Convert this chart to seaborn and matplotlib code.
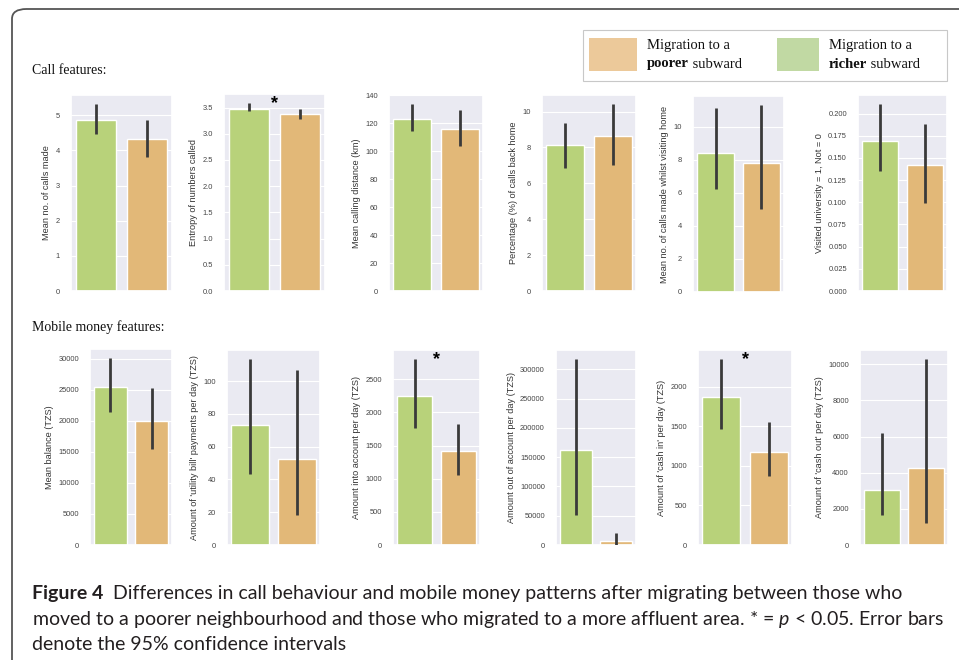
import matplotlib
matplotlib.use("Agg")
import matplotlib.pyplot as plt
import seaborn as sns
import pandas as pd
from matplotlib.patches import FancyBboxPatch, Rectangle
from matplotlib.ticker import MultipleLocator

# ---- data -----------------------------------------------------------------
groups = ["Migration to a richer subward", "Migration to a poorer subward"]

call_labels = [
    "Mean no. of calls made",
    "Entropy of numbers called",
    "Mean calling distance (km)",
    "Percentage (%) of calls back home",
    "Mean no. of calls made whilst visiting home",
    "Visited university = 1, Not = 0",
]
call_means = [[4.86, 4.31], [3.47, 3.37], [123.3, 116.0], [8.12, 8.62], [8.41, 7.81], [0.169, 0.1426]]
call_lo = [[4.46, 3.81], [3.43, 3.28], [114.5, 103.6], [6.88, 7.04], [6.22, 5.01], [0.135, 0.0994]]
call_hi = [[5.31, 4.86], [3.58, 3.48], [133.6, 129.6], [9.37, 10.40], [11.17, 11.31], [0.2105, 0.188]]
call_sig = [False, True, False, False, False, False]

money_labels = [
    "Mean balance (TZS)",
    "Amount of 'utility bill' payments per day (TZS)",
    "Amount into account per day (TZS)",
    "Amount out of account per day (TZS)",
    "Amount of 'cash in' per day (TZS)",
    "Amount of 'cash out' per day (TZS)",
]
money_means = [[25400, 19950], [73.2, 52.8], [2249, 1416], [163000, 6250], [1874, 1174], [3046, 4275]]
money_lo = [[21500, 15400], [43.1, 18.3], [1767, 1054], [51000, 0], [1463, 876], [1633, 1229]]
money_hi = [[30100, 25350], [113.4, 107.1], [2801, 1832], [317000, 19900], [2348, 1551], [6220, 10275]]
money_sig = [False, False, True, False, True, False]

caption_lines = [
    ("Figure 4", "  Differences in call behaviour and mobile money patterns after migrating between those who"),
    ("", "moved to a poorer neighbourhood and those who migrated to a more affluent area. * = $p$ < 0.05. Error bars"),
    ("", "denote the 95% confidence intervals"),
]

# ---- styling / layout -----------------------------------------------------
W, H = 959, 660
bar_colors = ["#b8d27a", "#e2b878"]
legend_colors = {"poorer": "#ecc99a", "richer": "#c1d9a3"}

call_boxes = [(71, 95, 172, 291), (224, 94, 325, 291), (389, 95, 483, 291),
              (542, 95, 636, 291), (693, 96, 784, 292), (858, 95, 947, 291)]
call_steps = [1, 0.5, 20, 2, 2, 0.025]
money_boxes = [(90, 349, 172, 545), (227, 350, 320, 545), (393, 350, 480, 545),
               (556, 350, 636, 545), (698, 350, 792, 545), (860, 350, 948, 545)]
money_steps = [5000, 20, 500, 50000, 500, 2000]

sns.set_theme(style="darkgrid", rc={"axes.facecolor": "#eaeaf2", "grid.color": "white"})
plt.rcParams["font.family"] = ["Liberation Sans", "DejaVu Sans"]
plt.rcParams["mathtext.fontset"] = "custom"
plt.rcParams["mathtext.it"] = "Lato:italic"
plt.rcParams["mathtext.rm"] = "Lato"

fig = plt.figure(figsize=(W / 100, H / 100), dpi=100)
fig.patch.set_facecolor("white")


def fx(px):
    return px / W


def fy(py):
    return 1 - py / H


def panel(box, label, means, lo, hi, sig, step):
    x0, y0, x1, y1 = box
    ax = fig.add_axes([fx(x0), fy(y1), fx(x1 - x0), (y1 - y0) / H])
    df = pd.DataFrame({"group": groups, "value": means})
    sns.barplot(data=df, x="group", y="value", hue="group", palette=bar_colors,
                saturation=1, errorbar=None, legend=False, width=0.8, ax=ax)
    ax.vlines(range(len(groups)), lo, hi, color="#3a3a3a", lw=2.0, zorder=3)
    ax.set_xticks([])
    ax.set_xlabel("")
    ax.set_ylabel(label, fontsize=6.6, color="#333333", labelpad=3)
    ax.yaxis.set_major_locator(MultipleLocator(step))
    ax.tick_params(axis="y", labelsize=5.4, labelcolor="#444444", pad=2)
    ax.grid(axis="y", color="white", lw=0.8)
    if sig:
        ax.text(0.5, hi[0], "*", ha="center", va="center", fontsize=13,
                fontweight="bold", color="black")
    return ax


for i in range(6):
    panel(call_boxes[i], call_labels[i], call_means[i], call_lo[i], call_hi[i],
          call_sig[i], call_steps[i])
    panel(money_boxes[i], money_labels[i], money_means[i], money_lo[i], money_hi[i],
          money_sig[i], money_steps[i])

# section headings
serif = ["Liberation Serif", "DejaVu Serif"]
fig.text(fx(32), fy(70), "Call features:", family=serif, fontsize=10, va="center", color="#111111")
fig.text(fx(32), fy(327), "Mobile money features:", family=serif, fontsize=10, va="center", color="#111111")

# legend box
fig.patches.append(Rectangle((fx(583), fy(81)), fx(947 - 583), (81 - 30) / H,
                             transform=fig.transFigure, facecolor="white",
                             edgecolor="#c8c8c8", lw=0.8))
fig.patches.append(Rectangle((fx(589), fy(71)), fx(48), 33 / H, transform=fig.transFigure,
                             facecolor=legend_colors["poorer"], edgecolor="none"))
fig.patches.append(Rectangle((fx(777), fy(71)), fx(42), 33 / H, transform=fig.transFigure,
                             facecolor=legend_colors["richer"], edgecolor="none"))

renderer = fig.canvas.get_renderer()


def two_part(x, y, bold, rest, family, size, color="#111111"):
    kw = dict(family=family, fontsize=size, va="center", color=color)
    xpos = fx(x)
    last = None
    if bold:
        t = fig.text(xpos, fy(y), bold, fontweight="bold", **kw)
        xpos = t.get_window_extent(renderer).x1 / W
        last = t
    if rest:
        last = fig.text(xpos, fy(y), rest, **kw)
    return last


for px, word in [(647, "poorer"), (829, "richer")]:
    fig.text(fx(px), fy(45), "Migration to a", family=serif, fontsize=10.5, va="center", color="#111111")
    two_part(px, 64, word, " subward", serif, 10.5)

# caption: size chosen so the first line spans x = 32 .. 900 px
cap_font = ["Lato", "DejaVu Sans"]
probe = fig.text(0, 0, caption_lines[0][0] + caption_lines[0][1], family=cap_font, fontsize=10)
probe_w = probe.get_window_extent(renderer).width
probe.remove()
cap_size = 10 * (900 - 32) / probe_w
for (bold, rest), y in zip(caption_lines, [593, 619, 644]):
    two_part(32, y, bold, rest, cap_font, cap_size, color="#231f20")

# figure frame with rounded top-left corner
fig.patches.append(FancyBboxPatch((fx(12), fy(700)), fx(1000), (700 - 9) / H,
                                  boxstyle="round,pad=0,rounding_size=0.015",
                                  transform=fig.transFigure, facecolor="none",
                                  edgecolor="#555555", lw=1.3, clip_on=False))

fig.savefig("out.png", dpi=100, facecolor="white")
